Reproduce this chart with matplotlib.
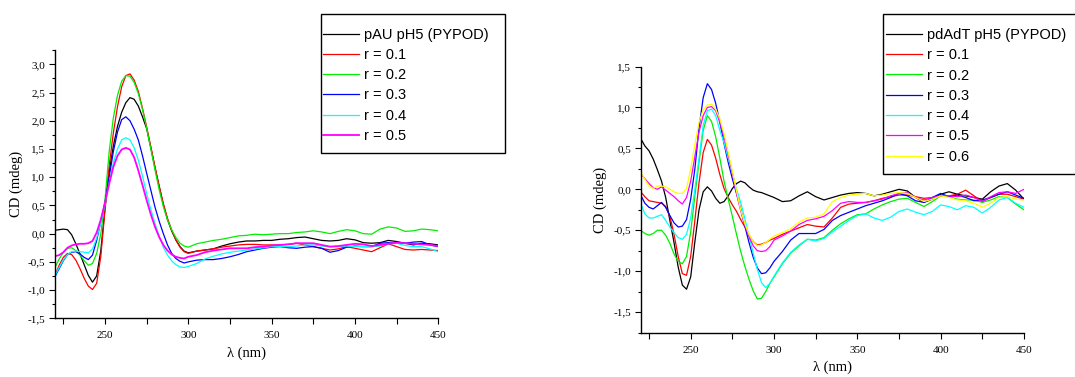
import matplotlib
matplotlib.use("Agg")
import matplotlib.pyplot as plt
from matplotlib.ticker import MultipleLocator, FuncFormatter
from matplotlib.patches import Rectangle

# wavelength grid (nm) shared by both panels
WL = [220, 222.5, 225, 227.5, 230, 232.5, 235, 237.5, 240, 242.5, 245, 247.5,
      250, 252.5, 255, 257.5, 260, 262.5, 265, 267.5, 270, 272.5, 275, 277.5,
      280, 282.5, 285, 287.5, 290, 292.5, 295, 297.5, 300,
      305, 310, 315, 320, 325, 330, 335, 340, 345, 350,
      355, 360, 365, 370, 375, 380, 385, 390, 395, 400,
      405, 410, 415, 420, 425, 430, 435, 440, 445, 450]

# ---- left panel: pAU pH5 (PYPOD) ----
left_labels = ["pAU pH5 (PYPOD)", "r = 0.1", "r = 0.2", "r = 0.3", "r = 0.4", "r = 0.5"]
pau_black = [0.06, 0.07, 0.08, 0.07, -0.02, -0.18, -0.36, -0.55, -0.74, -0.86, -0.75, -0.3,
             0.45, 1.1, 1.55, 1.9, 2.15, 2.32, 2.41, 2.38, 2.26, 2.07, 1.86, 1.52,
             1.17, 0.84, 0.52, 0.25, 0.05, -0.11, -0.23, -0.31, -0.34,
             -0.31, -0.29, -0.27, -0.22, -0.18, -0.15, -0.13, -0.13, -0.12, -0.12,
             -0.1, -0.09, -0.07, -0.06, -0.09, -0.12, -0.13, -0.12, -0.09, -0.11,
             -0.16, -0.17, -0.16, -0.12, -0.14, -0.17, -0.2, -0.17, -0.18, -0.2]
pau_r01 = [-0.74, -0.56, -0.42, -0.35, -0.37, -0.47, -0.62, -0.79, -0.93, -0.99, -0.88, -0.4,
           0.42, 1.2, 1.78, 2.25, 2.6, 2.8, 2.83, 2.72, 2.52, 2.22, 1.89, 1.54,
           1.18, 0.84, 0.53, 0.27, 0.06, -0.11, -0.24, -0.32, -0.35,
           -0.31, -0.29, -0.27, -0.24, -0.22, -0.2, -0.19, -0.19, -0.2, -0.2,
           -0.2, -0.19, -0.17, -0.2, -0.23, -0.26, -0.29, -0.27, -0.23, -0.26,
           -0.29, -0.32, -0.25, -0.18, -0.23, -0.28, -0.29, -0.28, -0.29, -0.3]
pau_r02 = [-0.6, -0.45, -0.33, -0.26, -0.25, -0.3, -0.38, -0.48, -0.56, -0.53, -0.35, 0.0,
           0.6, 1.45, 2.05, 2.45, 2.7, 2.8, 2.79, 2.68, 2.48, 2.2, 1.87, 1.5,
           1.13, 0.78, 0.48, 0.24, 0.07, -0.07, -0.17, -0.22, -0.24,
           -0.18, -0.15, -0.12, -0.1, -0.07, -0.04, -0.03, -0.01, -0.02, -0.01,
           0.0, 0.0, 0.02, 0.03, 0.05, 0.03, 0.0, 0.04, 0.07, 0.05,
           0.0, -0.01, 0.08, 0.12, 0.1, 0.04, 0.05, 0.08, 0.07, 0.05]
pau_r03 = [-0.76, -0.62, -0.48, -0.37, -0.33, -0.32, -0.36, -0.42, -0.46, -0.38, -0.12, 0.22,
           0.55, 1.0, 1.45, 1.8, 2.02, 2.07, 2.0, 1.85, 1.66, 1.38, 1.07, 0.77,
           0.47, 0.22, 0.0, -0.2, -0.35, -0.44, -0.49, -0.52, -0.5,
           -0.47, -0.46, -0.46, -0.44, -0.41, -0.37, -0.32, -0.29, -0.26, -0.24,
           -0.23, -0.25, -0.26, -0.24, -0.23, -0.26, -0.33, -0.3, -0.24, -0.22,
           -0.23, -0.23, -0.17, -0.16, -0.17, -0.17, -0.15, -0.14, -0.2, -0.23]
pau_r04 = [-0.74, -0.6, -0.47, -0.37, -0.32, -0.31, -0.32, -0.33, -0.34, -0.27, -0.08, 0.2,
           0.52, 0.9, 1.25, 1.5, 1.66, 1.7, 1.66, 1.52, 1.3, 1.02, 0.71, 0.43,
           0.18, -0.04, -0.24, -0.38, -0.48, -0.55, -0.59, -0.6, -0.58,
           -0.53, -0.45, -0.4, -0.36, -0.33, -0.31, -0.29, -0.27, -0.25, -0.23,
           -0.23, -0.23, -0.22, -0.2, -0.2, -0.22, -0.23, -0.23, -0.22, -0.23,
           -0.23, -0.23, -0.22, -0.18, -0.17, -0.21, -0.23, -0.23, -0.27, -0.32]
pau_r05 = [-0.4, -0.38, -0.33, -0.25, -0.21, -0.19, -0.18, -0.18, -0.17, -0.13, 0.02, 0.25,
           0.55, 0.88, 1.18, 1.38, 1.49, 1.52, 1.49, 1.35, 1.12, 0.86, 0.59, 0.34,
           0.12, -0.06, -0.2, -0.3, -0.37, -0.41, -0.43, -0.44, -0.41,
           -0.38, -0.33, -0.3, -0.28, -0.26, -0.26, -0.26, -0.24, -0.23, -0.21,
           -0.2, -0.19, -0.17, -0.17, -0.17, -0.2, -0.23, -0.22, -0.2, -0.18,
           -0.19, -0.22, -0.2, -0.18, -0.16, -0.17, -0.18, -0.19, -0.2, -0.22]

# ---- right panel: pdAdT pH5 (PYPOD) ----
right_labels = ["pdAdT pH5 (PYPOD)", "r = 0.1", "r = 0.2", "r = 0.3", "r = 0.4", "r = 0.5", "r = 0.6"]
pdadt_black = [0.62, 0.53, 0.47, 0.37, 0.24, 0.1, -0.1, -0.38, -0.65, -0.95, -1.17, -1.22,
               -1.07, -0.64, -0.25, -0.03, 0.03, -0.02, -0.11, -0.17, -0.15, -0.08, 0.01, 0.07,
               0.1, 0.08, 0.03, -0.01, -0.03, -0.04, -0.06, -0.08, -0.1,
               -0.15, -0.14, -0.08, -0.03, -0.09, -0.13, -0.1, -0.07, -0.05, -0.04,
               -0.05, -0.08, -0.06, -0.03, 0.0, -0.02, -0.1, -0.16, -0.12, -0.06,
               -0.03, -0.06, -0.08, -0.1, -0.12, -0.03, 0.04, 0.07, -0.01, -0.12]
pdadt_r01 = [-0.03, -0.09, -0.14, -0.15, -0.16, -0.17, -0.21, -0.33, -0.55, -0.82, -1.03, -1.05,
             -0.82, -0.38, 0.08, 0.45, 0.61, 0.54, 0.38, 0.18, 0.01, -0.1, -0.19, -0.27,
             -0.37, -0.46, -0.56, -0.64, -0.68, -0.67, -0.65, -0.62, -0.6,
             -0.55, -0.51, -0.47, -0.43, -0.45, -0.46, -0.35, -0.22, -0.18, -0.17,
             -0.16, -0.14, -0.11, -0.09, -0.07, -0.07, -0.09, -0.11, -0.1, -0.08,
             -0.08, -0.06, -0.01, -0.08, -0.15, -0.1, -0.06, -0.06, -0.09, -0.12]
pdadt_r02 = [-0.5, -0.54, -0.56, -0.54, -0.5, -0.5, -0.56, -0.66, -0.79, -0.88, -0.91, -0.82,
             -0.52, -0.08, 0.33, 0.72, 0.9, 0.83, 0.64, 0.38, 0.1, -0.12, -0.33, -0.55,
             -0.76, -0.94, -1.1, -1.24, -1.34, -1.33, -1.25, -1.15, -1.07,
             -0.91, -0.78, -0.69, -0.61, -0.62, -0.59, -0.5, -0.42, -0.36, -0.31,
             -0.3, -0.24, -0.19, -0.15, -0.12, -0.11, -0.16, -0.21, -0.15, -0.08,
             -0.09, -0.12, -0.13, -0.13, -0.16, -0.13, -0.09, -0.1, -0.18, -0.25]
pdadt_r03 = [-0.07, -0.17, -0.22, -0.24, -0.2, -0.16, -0.22, -0.32, -0.41, -0.46, -0.45, -0.37,
             -0.12, 0.25, 0.75, 1.12, 1.29, 1.22, 1.05, 0.82, 0.56, 0.33, 0.13, -0.05,
             -0.24, -0.45, -0.65, -0.83, -0.96, -1.03, -1.02, -0.96, -0.88,
             -0.76, -0.62, -0.54, -0.54, -0.54, -0.49, -0.38, -0.32, -0.28, -0.24,
             -0.2, -0.17, -0.14, -0.1, -0.05, -0.08, -0.14, -0.16, -0.1, -0.05,
             -0.09, -0.07, -0.1, -0.14, -0.13, -0.1, -0.06, -0.03, -0.07, -0.11]
pdadt_r04 = [-0.17, -0.3, -0.35, -0.35, -0.33, -0.31, -0.38, -0.46, -0.53, -0.59, -0.61, -0.55,
             -0.35, 0.0, 0.38, 0.78, 0.96, 0.98, 0.9, 0.72, 0.57, 0.38, 0.2, 0.0,
             -0.16, -0.36, -0.57, -0.78, -0.98, -1.14, -1.2, -1.15, -1.06,
             -0.9, -0.77, -0.68, -0.61, -0.63, -0.6, -0.52, -0.45, -0.38, -0.32,
             -0.3, -0.35, -0.38, -0.34, -0.27, -0.24, -0.28, -0.31, -0.27, -0.19,
             -0.21, -0.25, -0.2, -0.22, -0.29, -0.22, -0.13, -0.1, -0.17, -0.22]
pdadt_r05 = [0.19, 0.13, 0.07, 0.02, 0.0, 0.03, -0.01, -0.05, -0.09, -0.14, -0.18, -0.1,
             0.1, 0.4, 0.7, 0.9, 1.0, 1.01, 0.96, 0.82, 0.64, 0.42, 0.2, -0.05,
             -0.26, -0.44, -0.58, -0.69, -0.75, -0.76, -0.75, -0.7, -0.62,
             -0.57, -0.51, -0.43, -0.38, -0.36, -0.33, -0.26, -0.17, -0.15, -0.16,
             -0.16, -0.14, -0.12, -0.08, -0.05, -0.04, -0.1, -0.13, -0.1, -0.08,
             -0.08, -0.09, -0.07, -0.1, -0.15, -0.09, -0.04, -0.03, -0.05, 0.0]
pdadt_r06 = [0.21, 0.12, 0.04, 0.01, 0.04, 0.04, 0.03, 0.0, -0.03, -0.05, -0.05, 0.01,
             0.25, 0.55, 0.82, 0.97, 1.03, 1.04, 0.98, 0.86, 0.68, 0.45, 0.22, -0.02,
             -0.25, -0.42, -0.55, -0.64, -0.69, -0.68, -0.65, -0.61, -0.57,
             -0.53, -0.48, -0.4, -0.35, -0.34, -0.3, -0.15, -0.1, -0.07, -0.06,
             -0.05, -0.08, -0.07, -0.05, -0.04, -0.05, -0.1, -0.15, -0.12, -0.08,
             -0.1, -0.13, -0.14, -0.17, -0.22, -0.17, -0.1, -0.09, -0.12, -0.13]

left_series = [pau_black, pau_r01, pau_r02, pau_r03, pau_r04, pau_r05]
right_series = [pdadt_black, pdadt_r01, pdadt_r02, pdadt_r03, pdadt_r04, pdadt_r05, pdadt_r06]
colors = ["#000000", "#ff0000", "#00ee00", "#0000ff", "#00ffff", "#ff00ff", "#ffff00"]

W, H = 1075, 377
fig = plt.figure(figsize=(W / 100, H / 100), dpi=100)

SERIF = ["Liberation Serif", "DejaVu Serif"]
SANS = ["Liberation Sans", "DejaVu Sans"]


def comma_fmt(v, pos):
    return ("%.1f" % v).replace(".", ",")


def setup_axes(ax, ylim, yticks, ylab_x):
    ax.set_xlim(220, 450)
    ax.set_ylim(*ylim)
    ax.spines["top"].set_visible(False)
    ax.spines["right"].set_visible(False)
    for s in ("left", "bottom"):
        ax.spines[s].set_linewidth(1.0)
    ax.set_xticks([250, 300, 350, 400, 450])
    ax.xaxis.set_minor_locator(MultipleLocator(25))
    ax.set_yticks(yticks)
    ax.yaxis.set_minor_locator(MultipleLocator(0.25))
    ax.yaxis.set_major_formatter(FuncFormatter(comma_fmt))
    ax.tick_params(which="major", direction="out", length=4, width=0.8, pad=3)
    ax.tick_params(which="minor", direction="out", length=2.5, width=0.8)
    ax.tick_params(axis="x", which="minor", length=4)
    ax.tick_params(axis="x", which="major", pad=5.5)
    for lab in ax.get_xticklabels() + ax.get_yticklabels():
        lab.set_fontfamily(SERIF)
        lab.set_fontsize(8)
    ax.set_xlabel("λ (nm)", fontsize=10.5, family=SERIF)
    ax.set_ylabel("CD (mdeg)", fontsize=10.5, family=SERIF)
    ax.xaxis.set_label_coords(0.5, -0.105)
    ax.yaxis.set_label_coords(ylab_x, 0.5)


def fx(px):
    return px / W


def fy(py):
    return 1 - py / H


# left axes: x 55..438.3 px, y 50.2..318.3 px
ax1 = fig.add_axes([fx(55), fy(318.3), (438.3 - 55) / W, (318.3 - 50.2) / H])
# right axes: x 640.7..1024 px, y 66.5..332.6 px
ax2 = fig.add_axes([fx(640.7), fy(332.6), (1024 - 640.7) / W, (332.6 - 66.5) / H])

h1 = []
for ys, c, lab in zip(left_series, colors, left_labels):
    lw = 1.3 if lab == "r = 0.5" else 0.9
    ln, = ax1.plot(WL, ys, color=c, lw=lw, label=lab)
    h1.append(ln)
setup_axes(ax1, (-1.5, 3.25), [-1.5, -1.0, -0.5, 0.0, 0.5, 1.0, 1.5, 2.0, 2.5, 3.0], -0.083)

h2 = []
for ys, c, lab in zip(right_series, colors, right_labels):
    ln, = ax2.plot(WL, ys, color=c, lw=0.9, label=lab)
    h2.append(ln)
setup_axes(ax2, (-1.75, 1.5), [-1.5, -1.0, -0.5, 0.0, 0.5, 1.0, 1.5], -0.088)

# legend frames (figure pixel coordinates)
for (x0, y0, x1, y1) in [(321, 14.3, 505, 152.7), (883.3, 14.3, 1085, 174.3)]:
    fig.patches.append(Rectangle((fx(x0), fy(y1)), (x1 - x0) / W, (y1 - y0) / H,
                                 transform=fig.transFigure, fill=True, facecolor="white",
                                 edgecolor="black", linewidth=1.0, zorder=5))

leg_kw = dict(frameon=False, borderpad=0, handlelength=2.5, handletextpad=0.3,
              labelspacing=0.43, prop={"family": SANS, "size": 10.5}, borderaxespad=0)
lg1 = fig.legend(handles=h1, loc="center left",
                 bbox_to_anchor=(fx(322.7), fy((34.7 + 136) / 2)), **leg_kw)
lg2 = fig.legend(handles=h2, loc="center left",
                 bbox_to_anchor=(fx(886), fy((35 + 156.7) / 2)), **leg_kw)
lg1.set_zorder(6)
lg2.set_zorder(6)

fig.savefig("out.png", dpi=100)
